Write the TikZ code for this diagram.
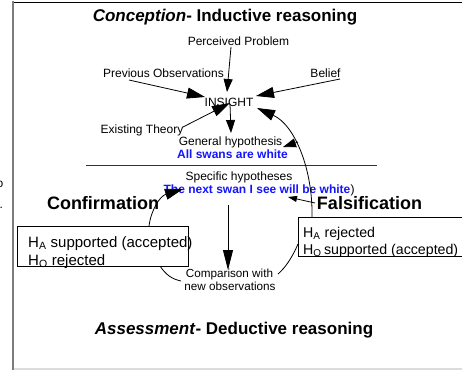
\documentclass[tikz,border=0pt]{standalone}
\usepackage{fontspec}
\setmainfont{Liberation Sans}
\usetikzlibrary{arrows.meta}
\definecolor{swanblue}{RGB}{20,20,255}
\definecolor{framegray}{RGB}{125,125,125}
\definecolor{palegray}{RGB}{220,220,220}
\begin{document}
\begin{tikzpicture}[x=1pt,y=-1pt,
  lbl/.style={inner sep=0pt,anchor=base,font=\fontsize{12}{14}\selectfont},
  blu/.style={inner sep=0pt,anchor=base,text=swanblue,font=\bfseries\fontsize{12}{14}\selectfont},
  head/.style={inner sep=0pt,anchor=base,font=\bfseries\fontsize{17}{20}\selectfont},
  side/.style={inner sep=0pt,anchor=base,font=\bfseries\fontsize{18}{20}\selectfont},
  hypl/.style={inner sep=0pt,anchor=base west,font=\fontsize{15}{17}\selectfont},
  hypr/.style={inner sep=0pt,anchor=base west,font=\fontsize{14.2}{17}\selectfont},
  small/.style={inner sep=0pt,anchor=base,font=\fontsize{11.7}{13}\selectfont},
  hbox/.style={draw=black,line width=0.8pt},
  conn/.style={line width=0.8pt},
  bigtip/.style={conn,-{Triangle[length=18pt,width=11pt]}},
  midtip/.style={conn,-{Triangle[length=13pt,width=9pt]}},
  longtip/.style={conn,-{Triangle[length=20pt,width=10pt]}},
  smalltip/.style={conn,-{Triangle[length=9pt,width=6pt]}},
]
\useasboundingbox (0,0) rectangle (462,370);
% frame
\coordinate (ftl) at (13,2);
\coordinate (ftr) at (462,2);
\coordinate (fbl) at (13,369);
\coordinate (fbr) at (462,369);
\coordinate (flt) at (13,1);
\coordinate (flb) at (13,370);
\draw[black,line width=1pt] (ftl) -- (ftr);
\draw[palegray,line width=1.5pt] (fbl) -- (fbr);
\draw[framegray,line width=2pt] (flt) -- (flb);
% cut-off fragments at the left edge
\node[lbl] (fragO) at (0,187) {o};
\node[inner sep=0pt,anchor=base west,font=\fontsize{12}{14}\selectfont] (fragDot) at (-0.5,208) {.};
% titles
\node[head] (title) at (225,21) {\textit{Conception}- Inductive reasoning};
\node[head] (assess) at (234,334) {\textit{Assessment}- Deductive reasoning};
% upper labels
\node[lbl] (perc) at (238.5,45) {Perceived Problem};
\node[lbl] (prev) at (163.5,77) {Previous Observations};
\node[lbl] (belief) at (325.5,77) {Belief};
\node[lbl] (insight) at (229,106.5) {INSIGHT};
\node[lbl] (theory) at (142,133) {Existing Theory};
\node[lbl] (genh) at (230.5,145) {General hypothesis};
\node[blu] (allw) at (232.5,158) {All swans are white};
% divider
\coordinate (divl) at (86,165);
\coordinate (divr) at (377,165);
\draw[black!80,line width=0.8pt] (divl) -- (divr);
\node[lbl] (spech) at (239,180) {Specific hypotheses};
\node[blu] (nextw) at (257,193.5) {The next swan I see will be white};
\node[inner sep=0pt,anchor=base west,font=\fontsize{12}{14}\selectfont] (paren) at (350.5,193.5) {)};
\node[side] (conf) at (103,209) {Confirmation};
\node[side] (fals) at (369.5,209) {Falsification};
% boxes
\node[hbox,anchor=north west,minimum width=171pt,minimum height=40pt,inner sep=0pt] (lbox) at (17,226) {};
\node[hbox,anchor=north west,minimum width=164pt,minimum height=39pt,inner sep=0pt] (rbox) at (298,217) {};
\node[hypl] (l1) at (28,247) {H\textsubscript{A} supported (accepted)};
\node[hypl] (l2) at (28,265) {H\textsubscript{O} rejected};
\node[hypr] (r1) at (303,237) {H\textsubscript{A} rejected};
\node[hypr] (r2) at (303,254) {H\textsubscript{O}\,supported (accepted)};
\node[small] (cmp1) at (229.5,277) {Comparison with};
\node[small] (cmp2) at (230,290) {new observations};
% connector end points
\coordinate (pps) at (231,47);   \coordinate (ppt) at (227,92);
\coordinate (pos) at (129,80);   \coordinate (pot) at (205,97);
\coordinate (bes) at (340,79);   \coordinate (bet) at (256,96);
\coordinate (ets) at (183,127);  \coordinate (ett) at (230,103);
\coordinate (ins) at (230,104);  \coordinate (int) at (231,133);
\coordinate (arcs) at (312,217); \coordinate (arct) at (257,108);
\coordinate (ghs) at (298,142);  \coordinate (ght) at (283,147);
\coordinate (fas) at (315,203);  \coordinate (fat) at (288,197);
\coordinate (cfs) at (149,226);  \coordinate (cft) at (183,189);
\coordinate (cms) at (228,205);  \coordinate (cmt) at (228,270);
\coordinate (lcs) at (160,266);  \coordinate (lce) at (181,281);
\coordinate (rcs) at (298,244);  \coordinate (rce) at (278,274);
% connectors
\draw[midtip] (pps) -- (ppt);
\draw[bigtip] (pos) -- (pot);
\draw[bigtip] (bes) -- (bet);
\draw[bigtip] (ets) -- (ett);
\draw[midtip] (ins) -- (int);
\draw[bigtip] (arcs) .. controls (313,170) and (295,125) .. (arct);
\draw[midtip] (ghs) -- (ght);
\draw[smalltip] (fas) -- (fat);
\draw[bigtip] (cfs) .. controls (151,210) and (160,196) .. (cft);
\draw[longtip] (cms) -- (cmt);
\draw[conn] (lcs) .. controls (166,275) and (172,279) .. (lce);
\draw[conn] (rcs) .. controls (292,258) and (285,268) .. (rce);
\end{tikzpicture}
\end{document}
